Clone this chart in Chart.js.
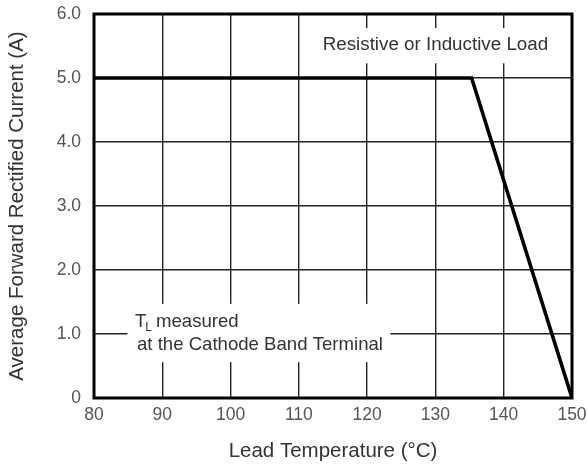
<!DOCTYPE html>
<html><head><meta charset="utf-8">
<script src="https://cdn.jsdelivr.net/npm/chart.js@4/dist/chart.umd.min.js"></script>
<style>html,body{margin:0;padding:0;background:#fff}#wrap{width:587px;height:466px}</style>
</head><body><div id="wrap"><canvas id="c" width="587" height="466"></canvas></div>
<script>
const temperatures = [80, 135.3, 150];
const currents = [5.0, 5.0, 0];
const xTicks = [80, 90, 100, 110, 120, 130, 140, 150];
const yTicks = [0, 1, 2, 3, 4, 5, 6];
const xTitle = 'Lead Temperature (\u00B0C)';
const yTitle = 'Average Forward Rectified Current (A)';
const noteTop = 'Resistive or Inductive Load';
const noteBottom1 = 'measured';
const noteBottom2 = 'at the Cathode Band Terminal';

const FONT = "'Liberation Sans', Arial, sans-serif";

const frame = {
  id: 'frame',
  beforeDatasetsDraw(chart) {
    const {ctx, chartArea: a, scales} = chart;
    const xs = scales.x, ys = scales.y;
    ctx.save();
    ctx.fillStyle = '#fff';
    // white boxes behind notes (data-space anchors)
    let l = xs.getPixelForValue(113.3), r = xs.getPixelForValue(147.9);
    let t = ys.getPixelForValue(5.78), b = ys.getPixelForValue(5.23);
    ctx.fillRect(l, t, r - l, b - t);
    l = xs.getPixelForValue(84.9); r = xs.getPixelForValue(123.4);
    t = ys.getPixelForValue(1.47); b = ys.getPixelForValue(0.56);
    ctx.fillRect(l, t, r - l, b - t);
    ctx.strokeStyle = '#000';
    ctx.lineWidth = 3;
    ctx.strokeRect(a.left, a.top, a.right - a.left, a.bottom - a.top);
    ctx.restore();
  },
  afterDraw(chart) {
    const {ctx, scales} = chart;
    const xs = scales.x, ys = scales.y;
    ctx.save();
    ctx.fillStyle = '#333';
    ctx.textBaseline = 'middle';
    ctx.font = '18.8px ' + FONT;
    ctx.textAlign = 'center';
    ctx.fillText(noteTop, xs.getPixelForValue(130.0), ys.getPixelForValue(5.516));
    ctx.textAlign = 'left';
    const x0 = xs.getPixelForValue(86.0);
    const y1 = ys.getPixelForValue(1.19);
    const y2 = ys.getPixelForValue(0.83);
    ctx.font = '18.6px ' + FONT;
    ctx.fillText('T', x0, y1);
    const tw = ctx.measureText('T').width;
    ctx.font = '12px ' + FONT;
    ctx.fillText('L', x0 + tw - 1, y1 + 6);
    const lw = ctx.measureText('L').width;
    ctx.font = '18.6px ' + FONT;
    ctx.fillText(noteBottom1, x0 + tw + lw + 3, y1);
    ctx.fillText(noteBottom2, x0 + 2, y2);
    ctx.restore();
  }
};

new Chart(document.getElementById('c'), {
  type: 'line',
  data: {
    datasets: [{
      data: temperatures.map((t, i) => ({x: t, y: currents[i]})),
      borderColor: '#000',
      borderWidth: 3.6,
      pointRadius: 0,
      tension: 0,
      fill: false,
      borderJoinStyle: 'miter'
    }]
  },
  options: {
    responsive: false,
    animation: false,
    devicePixelRatio: 1,
    layout: {padding: {top: 14, right: 15, left: 0, bottom: 0}},
    plugins: {legend: {display: false}, tooltip: {enabled: false}},
    scales: {
      x: {
        type: 'linear', min: 80, max: 150,
        afterBuildTicks(s) { s.ticks = xTicks.map(v => ({value: v})); },
        ticks: {color: '#555', font: {family: FONT, size: 17.5}, padding: 7, maxRotation: 0,
          callback: v => String(v)},
        grid: {color: '#222', lineWidth: 1.4, drawTicks: false},
        border: {display: false},
        title: {display: true, text: xTitle, color: '#333', font: {family: FONT, size: 20.5}, padding: {top: 0, bottom: 2}},
        afterFit(s) { s.height = 68; s.paddingLeft = 0; s.paddingRight = 0; }
      },
      y: {
        type: 'linear', min: 0, max: 6,
        afterBuildTicks(s) { s.ticks = yTicks.map(v => ({value: v})); },
        ticks: {color: '#555', font: {family: FONT, size: 17.5}, padding: 13,
          callback: v => v === 0 ? '0' : v.toFixed(1)},
        grid: {color: '#222', lineWidth: 1.4, drawTicks: false},
        border: {display: false},
        title: {display: true, text: yTitle, color: '#333', font: {family: FONT, size: 20.5}, padding: {top: 5, bottom: 0}},
        afterFit(s) { s.width = 94; s.paddingTop = 0; s.paddingBottom = 0; }
      }
    }
  },
  plugins: [frame]
});
</script></body></html>
